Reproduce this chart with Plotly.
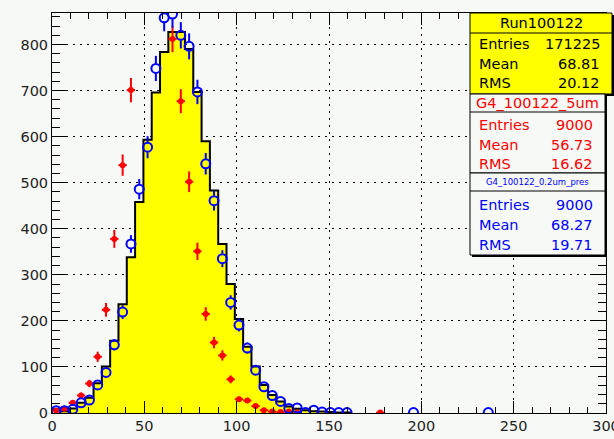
import numpy as np
import plotly.graph_objects as go

# Binning shared by all three histograms
bin_width = 4.5
x_min, x_max = 0, 300
y_max = 868.4

# Run100122 (normalised to 9000 entries), drawn as a filled step histogram
run_counts = [8, 4, 10, 22, 33, 64.5, 101, 157, 236, 338, 458, 593, 696, 784,
              827, 827, 790, 697, 590, 483, 367, 280, 204, 144, 101, 61, 39,
              25, 14, 9, 6, 4, 3, 2, 1, 1]

# G4_100122_5um, red points
g4_5um_counts = [5, 9, 22, 38, 64, 122, 224, 378, 538, 701, 920, 1010, 1020,
                 950, 812, 677, 502, 351, 215, 153, 125, 73, 30, 27, 15, 6, 3,
                 2, 3, 1, 0, 0, 0, 0, 0, 0, 0, 0, 0, 1]

# G4_100122_0.2um_pres, blue open circles
g4_02um_counts = [5, 5, 8, 22, 28, 61, 88, 148, 219, 367, 486, 577, 748, 858,
                  866, 820, 796, 697, 541, 461, 335, 240, 191, 141, 93, 57, 38,
                  25, 10, 11, 1, 6, 2, 1, 1, 1, 0, 0, 0, 0, 0, 0, 0, 1, 0, 0,
                  0, 0, 0, 0, 0, 0, 1]

# Statistics boxes
stats_run = {"title": "Run100122", "Entries": "171225", "Mean": "68.81", "RMS": "20.12"}
stats_5um = {"title": "G4_100122_5um", "Entries": "9000", "Mean": "56.73", "RMS": "16.62"}
stats_02um = {"title": "G4_100122_0.2um_pres", "Entries": "9000", "Mean": "68.27", "RMS": "19.71"}

x_ticks = [0, 50, 100, 150, 200, 250, 300]
y_ticks = [0, 100, 200, 300, 400, 500, 600, 700, 800]

FONT = "DejaVu Sans"
BG = "#f7f9f7"

# figure geometry in pixels
W, H = 614, 439
L, R, T, B = 52, 8, 13, 26
PW, PH = W - L - R, H - T - B


def px_x(px):
    return (px - L) / PW


def px_y(py):
    return (H - B - py) / PH


def points(counts):
    c = np.asarray(counts, dtype=float)
    centers = (np.arange(len(c)) + 0.5) * bin_width
    keep = c > 0
    return centers[keep], c[keep]


fig = go.Figure()

# filled step histogram
run = np.asarray(run_counts, dtype=float)
edges = np.arange(len(run) + 1) * bin_width
step_x = np.concatenate([[edges[0]], edges])
step_y = np.concatenate([[0.0], run, [0.0]])
fig.add_trace(go.Scatter(
    x=step_x, y=step_y, mode="lines", line=dict(shape="hv", color="black", width=2),
    fill="tozeroy", fillcolor="#ffff00", hoverinfo="skip", showlegend=False))

# red points
rx, ry = points(g4_5um_counts)
fig.add_trace(go.Scatter(
    x=rx, y=ry, mode="markers",
    marker=dict(symbol="circle", size=6, color="#ff0000"),
    error_y=dict(type="data", array=np.sqrt(ry), color="#ff0000", thickness=2, width=0),
    error_x=dict(type="constant", value=bin_width / 2, color="#ff0000", thickness=2, width=0),
    showlegend=False, hoverinfo="skip"))

# blue open circles: vertical error bars leave a gap around the marker
bx, by = points(g4_02um_counts)
marker_r = 5.0 * y_max / PH          # marker radius in data units
seg_x, seg_y = [], []
for xc, yc in zip(bx, by):
    err = np.sqrt(yc)
    if err > marker_r:
        seg_x += [xc, xc, None, xc, xc, None]
        seg_y += [yc + marker_r, yc + err, None, yc - marker_r, yc - err, None]
fig.add_trace(go.Scatter(
    x=seg_x, y=seg_y, mode="lines", line=dict(color="#0000ff", width=2),
    hoverinfo="skip", showlegend=False))
fig.add_trace(go.Scatter(
    x=bx, y=by, mode="markers",
    marker=dict(symbol="circle-open", size=9, color="#0000ff", line=dict(width=2)),
    showlegend=False))

axis_common = dict(
    showline=True, linecolor="black", linewidth=1, mirror="ticks",
    ticks="inside", tickcolor="black", tickwidth=1,
    showgrid=True, gridcolor="black", gridwidth=1, griddash="2px,5px",
    zeroline=False, tickfont=dict(family=FONT, size=14.5, color="#222222"),
)

fig.update_xaxes(range=[x_min, x_max], tickvals=x_ticks, ticklen=12,
                 ticklabeloverflow="allow",
                 minor=dict(dtick=10, ticklen=6, ticks="inside", tickcolor="black",
                            showgrid=False),
                 **axis_common)
fig.update_yaxes(range=[0, y_max], tickvals=y_ticks, ticklen=16,
                 minor=dict(dtick=20, ticklen=8, ticks="inside", tickcolor="black",
                            showgrid=False),
                 **axis_common)

shapes = []
annotations = []


def box(x0, y0, x1, y1, fill):
    # shadow then the box itself
    shapes.append(dict(type="rect", xref="paper", yref="paper",
                       x0=px_x(x0 + 2), x1=px_x(x1 + 2), y0=px_y(y1 + 2), y1=px_y(y0 + 2),
                       line=dict(width=0), fillcolor="black", layer="above"))
    shapes.append(dict(type="rect", xref="paper", yref="paper",
                       x0=px_x(x0), x1=px_x(x1), y0=px_y(y1), y1=px_y(y0),
                       line=dict(color="black", width=1), fillcolor=fill, layer="above"))


def hline(x0, x1, y):
    shapes.append(dict(type="line", xref="paper", yref="paper",
                       x0=px_x(x0), x1=px_x(x1), y0=px_y(y), y1=px_y(y),
                       line=dict(color="black", width=1), layer="above"))


def text(s, px, py, color, size, anchor):
    annotations.append(dict(text=s, xref="paper", yref="paper", x=px_x(px), y=px_y(py),
                            xanchor=anchor, yanchor="middle", showarrow=False,
                            font=dict(family=FONT, size=size, color=color)))


def stats_box(st, x0, x1, y0, ysep, y1, fill, color, title_size, rows_y):
    box(x0, y0, x1, y1, fill)
    hline(x0, x1, ysep)
    text(st["title"], (x0 + x1) / 2, (y0 + ysep) / 2, color, title_size, "center")
    for key, yy in zip(["Entries", "Mean", "RMS"], rows_y):
        text(key, x0 + 7, yy, color, 14.5, "left")
        text(st[key], x1 - 10, yy, color, 14.5, "right")


stats_box(stats_run, 470, 612, 13, 33, 94, "#ffff00", "black", 14.5, [44, 64, 83])
stats_box(stats_5um, 470, 605, 94, 112, 173, BG, "#ff0000", 14.5, [125, 145, 164])
stats_box(stats_02um, 470, 605, 173, 191, 255, BG, "#0000ff", 8.5, [205, 225, 245])

fig.update_layout(
    width=W, height=H,
    margin=dict(l=L, r=R, t=T, b=B, autoexpand=False),
    paper_bgcolor=BG, plot_bgcolor=BG,
    shapes=shapes, annotations=annotations,
    showlegend=False,
)

fig.write_html("out.html")
